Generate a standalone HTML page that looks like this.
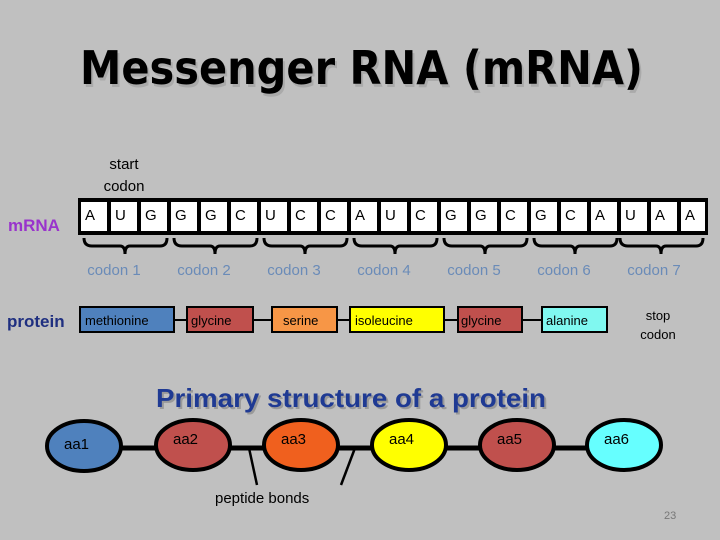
<!DOCTYPE html>
<html><head><meta charset="utf-8"><style>
html,body{margin:0;padding:0;background:#c0c0c0;}
svg{display:block;font-family:"Liberation Sans",sans-serif;}
</style></head><body>
<svg width="720" height="540" viewBox="0 0 720 540" xmlns="http://www.w3.org/2000/svg">
<rect width="720" height="540" fill="#c0c0c0"/>
<text x="82" y="87" font-family="DejaVu Sans" font-weight="bold" font-size="46" fill="#aaa" textLength="563" lengthAdjust="spacingAndGlyphs">Messenger RNA (mRNA)</text>
<text x="80" y="84" font-family="DejaVu Sans" font-weight="bold" font-size="46" fill="#000" textLength="563" lengthAdjust="spacingAndGlyphs">Messenger RNA (mRNA)</text>
<text x="124" y="169" font-size="15" text-anchor="middle">start</text>
<text x="124" y="191" font-size="15" text-anchor="middle">codon</text>
<text x="8" y="231" font-size="17" font-weight="bold" fill="#9933cc">mRNA</text>
<text x="7" y="327" font-size="17" font-weight="bold" fill="#1f2f80">protein</text>
<rect x="78" y="198" width="630" height="37" fill="#000"/>
<g font-size="15">
<rect x="81" y="202" width="26" height="29" fill="#fff"/><text x="85" y="220">A</text>
<rect x="111" y="202" width="26" height="29" fill="#fff"/><text x="115" y="220">U</text>
<rect x="141" y="202" width="26" height="29" fill="#fff"/><text x="145" y="220">G</text>
<rect x="171" y="202" width="26" height="29" fill="#fff"/><text x="175" y="220">G</text>
<rect x="201" y="202" width="26" height="29" fill="#fff"/><text x="205" y="220">G</text>
<rect x="231" y="202" width="26" height="29" fill="#fff"/><text x="235" y="220">C</text>
<rect x="261" y="202" width="26" height="29" fill="#fff"/><text x="265" y="220">U</text>
<rect x="291" y="202" width="26" height="29" fill="#fff"/><text x="295" y="220">C</text>
<rect x="321" y="202" width="26" height="29" fill="#fff"/><text x="325" y="220">C</text>
<rect x="351" y="202" width="26" height="29" fill="#fff"/><text x="355" y="220">A</text>
<rect x="381" y="202" width="26" height="29" fill="#fff"/><text x="385" y="220">U</text>
<rect x="411" y="202" width="26" height="29" fill="#fff"/><text x="415" y="220">C</text>
<rect x="441" y="202" width="26" height="29" fill="#fff"/><text x="445" y="220">G</text>
<rect x="471" y="202" width="26" height="29" fill="#fff"/><text x="475" y="220">G</text>
<rect x="501" y="202" width="26" height="29" fill="#fff"/><text x="505" y="220">C</text>
<rect x="531" y="202" width="26" height="29" fill="#fff"/><text x="535" y="220">G</text>
<rect x="561" y="202" width="26" height="29" fill="#fff"/><text x="565" y="220">C</text>
<rect x="591" y="202" width="26" height="29" fill="#fff"/><text x="595" y="220">A</text>
<rect x="621" y="202" width="26" height="29" fill="#fff"/><text x="625" y="220">U</text>
<rect x="651" y="202" width="26" height="29" fill="#fff"/><text x="655" y="220">A</text>
<rect x="681" y="202" width="24" height="29" fill="#fff"/><text x="685" y="220">A</text>
</g>
<g fill="none" stroke="#000" stroke-width="3">
<path d="M84 238 Q84 246 92 246 H120 Q125 246 125 254 Q125 246 130 246 H160 Q167 246 167 238"/>
<path d="M174 238 Q174 246 182 246 H210 Q215 246 215 254 Q215 246 220 246 H250 Q257 246 257 238"/>
<path d="M264 238 Q264 246 272 246 H300 Q305 246 305 254 Q305 246 310 246 H340 Q347 246 347 238"/>
<path d="M354 238 Q354 246 362 246 H390 Q395 246 395 254 Q395 246 400 246 H430 Q437 246 437 238"/>
<path d="M444 238 Q444 246 452 246 H480 Q485 246 485 254 Q485 246 490 246 H520 Q527 246 527 238"/>
<path d="M534 238 Q534 246 542 246 H570 Q575 246 575 254 Q575 246 580 246 H610 Q617 246 617 238"/>
<path d="M620 238 Q620 246 628 246 H656 Q661 246 661 254 Q661 246 666 246 H696 Q703 246 703 238"/>
</g>
<g font-size="15" fill="#6a8bb8" text-anchor="middle">
<text x="114" y="275">codon 1</text><text x="204" y="275">codon 2</text><text x="294" y="275">codon 3</text>
<text x="384" y="275">codon 4</text><text x="474" y="275">codon 5</text><text x="564" y="275">codon 6</text>
<text x="654" y="275">codon 7</text>
</g>
<g stroke="#000" stroke-width="2">
<line x1="174" y1="320" x2="542" y2="320"/>
<rect x="80" y="307" width="94" height="25" fill="#4f81bd"/>
<rect x="187" y="307" width="66" height="25" fill="#c0504d"/>
<rect x="272" y="307" width="65" height="25" fill="#f79646"/>
<rect x="350" y="307" width="94" height="25" fill="#ffff00"/>
<rect x="458" y="307" width="64" height="25" fill="#c0504d"/>
<rect x="542" y="307" width="65" height="25" fill="#80f8f0"/>
</g>
<g font-size="13" fill="#000">
<text x="85" y="325">methionine</text><text x="191" y="325">glycine</text><text x="283" y="325">serine</text>
<text x="355" y="325">isoleucine</text><text x="461" y="325">glycine</text><text x="546" y="325">alanine</text>
<text x="658" y="320" text-anchor="middle">stop</text><text x="658" y="339" text-anchor="middle">codon</text>
</g>
<text x="158" y="409" font-size="26" font-weight="bold" fill="#999" textLength="390" lengthAdjust="spacingAndGlyphs">Primary structure of a protein</text>
<text x="156" y="407" font-size="26" font-weight="bold" fill="#1f3a93" textLength="390" lengthAdjust="spacingAndGlyphs">Primary structure of a protein</text>
<g stroke="#000" stroke-width="5">
<line x1="122" y1="448" x2="586" y2="448"/>
</g>
<g stroke="#000" stroke-width="2.5">
<line x1="249" y1="448" x2="257" y2="485"/>
<line x1="355" y1="448" x2="341" y2="485"/>
</g>
<g stroke="#000" stroke-width="4">
<ellipse cx="84" cy="446" rx="37" ry="25" fill="#4f81bd"/>
<ellipse cx="193" cy="445" rx="37" ry="25" fill="#c0504d"/>
<ellipse cx="301" cy="445" rx="37" ry="25" fill="#f0601e"/>
<ellipse cx="409" cy="445" rx="37" ry="25" fill="#ffff00"/>
<ellipse cx="517" cy="445" rx="37" ry="25" fill="#c0504d"/>
<ellipse cx="624" cy="445" rx="37" ry="25" fill="#66ffff"/>
</g>
<g font-size="15" fill="#000">
<text x="64" y="449">aa1</text><text x="173" y="444">aa2</text><text x="281" y="444">aa3</text>
<text x="389" y="444">aa4</text><text x="497" y="444">aa5</text><text x="604" y="444">aa6</text>
<text x="215" y="503">peptide bonds</text>
</g>
<text x="664" y="519" font-size="11" fill="#777">23</text>
</svg>
</body></html>
